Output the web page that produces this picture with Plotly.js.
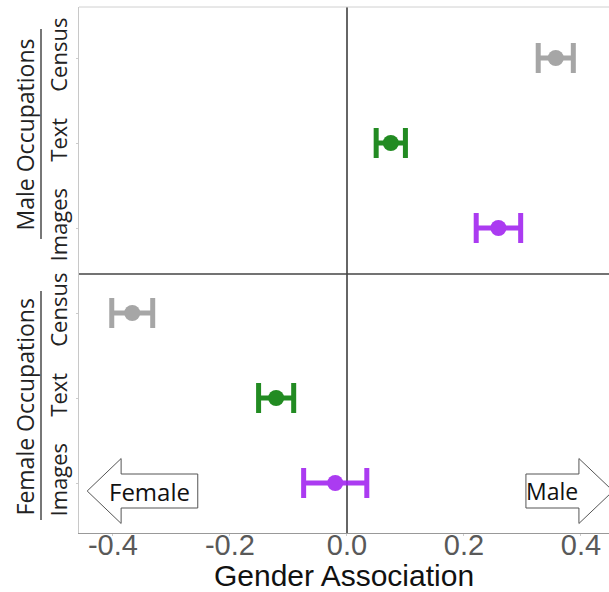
<!DOCTYPE html>
<html>
<head>
<meta charset="utf-8">
<script src="https://cdn.plot.ly/plotly-3.0.1.min.js"></script>
<style>
  html, body { margin: 0; padding: 0; background: #fff; }
  #chart { width: 609px; height: 592px; }
</style>
</head>
<body>
<div id="chart"></div>
<script>
// Row labels, bottom to top (Female block first, then Male block)
const rowLabels = ['Images', 'Text', 'Census', 'Images', 'Text', 'Census'];
const rowPos = [1, 2, 3, 4, 5, 6];

// Mean gender association and error half-widths: [Male occupations, Female occupations]
const censusMean = [0.357, -0.367];
const censusErr  = [0.030, 0.035];
const textMean   = [0.075, -0.121];
const textErr    = [0.025, 0.030];
const imagesMean = [0.259, -0.020];
const imagesErr  = [0.038, 0.054];

const xTickVals = [-0.4, -0.2, 0.0, 0.2, 0.4];
const xTickText = ['-0.4', '-0.2', '0.0', '0.2', '0.4'];

function series(name, mean, err, y, color, opacity) {
  return {
    type: 'scatter', mode: 'markers', name: name,
    x: mean, y: y, opacity: opacity,
    marker: { color: color, size: 16 },
    error_x: { type: 'data', array: err, visible: true, color: color, thickness: 5, width: 15 },
    hoverinfo: 'x+name'
  };
}

const traces = [
  series('Census', censusMean, censusErr, [rowPos[5], rowPos[2]], '#a6a6a6', 1),
  series('Text',   textMean,   textErr,   [rowPos[4], rowPos[1]], '#228b22', 1),
  series('Images', imagesMean, imagesErr, [rowPos[3], rowPos[0]], '#a020f0', 0.88)
];

// Block arrow path in data coordinates
function arrowPath(tipX, baseX, endX, yc, headHalf, bodyHalf) {
  return 'M' + tipX + ',' + yc +
    ' L' + baseX + ',' + (yc + headHalf) +
    ' L' + baseX + ',' + (yc + bodyHalf) +
    ' L' + endX + ',' + (yc + bodyHalf) +
    ' L' + endX + ',' + (yc - bodyHalf) +
    ' L' + baseX + ',' + (yc - bodyHalf) +
    ' L' + baseX + ',' + (yc - headHalf) + ' Z';
}

const arrowY = 0.906;
const shapes = [
  // divider between Male and Female blocks
  { type: 'line', xref: 'paper', yref: 'y', x0: 0, x1: 1, y0: 3.46, y1: 3.46,
    line: { color: '#444', width: 1.5 } },
  // top border
  { type: 'line', xref: 'paper', yref: 'paper', x0: 0, x1: 1, y0: 1, y1: 1,
    line: { color: '#d0d0d0', width: 1 } },
  // group brackets
  { type: 'line', xref: 'paper', yref: 'y', x0: -0.0717, x1: -0.0717, y0: 3.871, y1: 6.341,
    line: { color: '#777', width: 2 } },
  { type: 'line', xref: 'paper', yref: 'y', x0: -0.0717, x1: -0.0717, y0: 0.565, y1: 3.259,
    line: { color: '#777', width: 2 } },
  // direction arrows
  { type: 'path', xref: 'x', yref: 'y', layer: 'below',
    path: arrowPath(-0.444, -0.386, -0.255, arrowY, 0.382, 0.2),
    fillcolor: '#fff', line: { color: '#555', width: 1 } },
  { type: 'path', xref: 'x', yref: 'y', layer: 'below',
    path: arrowPath(0.455, 0.3966, 0.306, arrowY, 0.382, 0.2),
    fillcolor: '#fff', line: { color: '#555', width: 1 } }
];

const annotations = [
  { xref: 'paper', yref: 'y', x: -0.102, y: 5.1, text: 'Male Occupations', textangle: -90,
    showarrow: false, xanchor: 'center', yanchor: 'middle',
    font: { family: 'Open Sans', size: 23, color: '#222' } },
  { xref: 'paper', yref: 'y', x: -0.102, y: 1.9, text: 'Female Occupations', textangle: -90,
    showarrow: false, xanchor: 'center', yanchor: 'middle',
    font: { family: 'Open Sans', size: 23, color: '#222' } },
  { xref: 'x', yref: 'y', x: -0.338, y: arrowY, text: 'Female', showarrow: false,
    font: { family: 'Open Sans', size: 24, color: '#111' } },
  { xref: 'x', yref: 'y', x: 0.351, y: arrowY, text: 'Male', showarrow: false,
    font: { family: 'Open Sans', size: 23, color: '#111' } }
];

const layout = {
  width: 609, height: 592,
  margin: { l: 79, r: 0, t: 7, b: 59 },
  paper_bgcolor: '#fff', plot_bgcolor: '#fff',
  showlegend: false,
  xaxis: {
    range: [-0.458, 0.448],
    tickvals: xTickVals, ticktext: xTickText,
    tickfont: { family: 'Liberation Sans, Arial', size: 29, color: '#595959' },
    ticklabelstandoff: -16,
    showgrid: false,
    zeroline: true, zerolinecolor: '#666', zerolinewidth: 1.5,
    showline: true, linecolor: '#999', linewidth: 1,
    ticks: 'outside', ticklen: 2, tickcolor: '#ccc',
    title: { text: 'Gender Association', standoff: 2,
             font: { family: 'Liberation Sans, Arial', size: 30, color: '#111' } }
  },
  yaxis: {
    range: [0.412, 6.6],
    tickvals: rowPos, ticktext: rowLabels,
    tickangle: -90,
    tickfont: { family: 'Open Sans', size: 22, color: '#222' },
    showgrid: false, zeroline: false,
    showline: true, linecolor: '#c8c8c8', linewidth: 1,
    ticks: 'outside', ticklen: 2, tickcolor: '#ccc'
  },
  shapes: shapes,
  annotations: annotations
};

Plotly.newPlot('chart', traces, layout, { displayModeBar: false, staticPlot: true });
</script>
</body>
</html>
